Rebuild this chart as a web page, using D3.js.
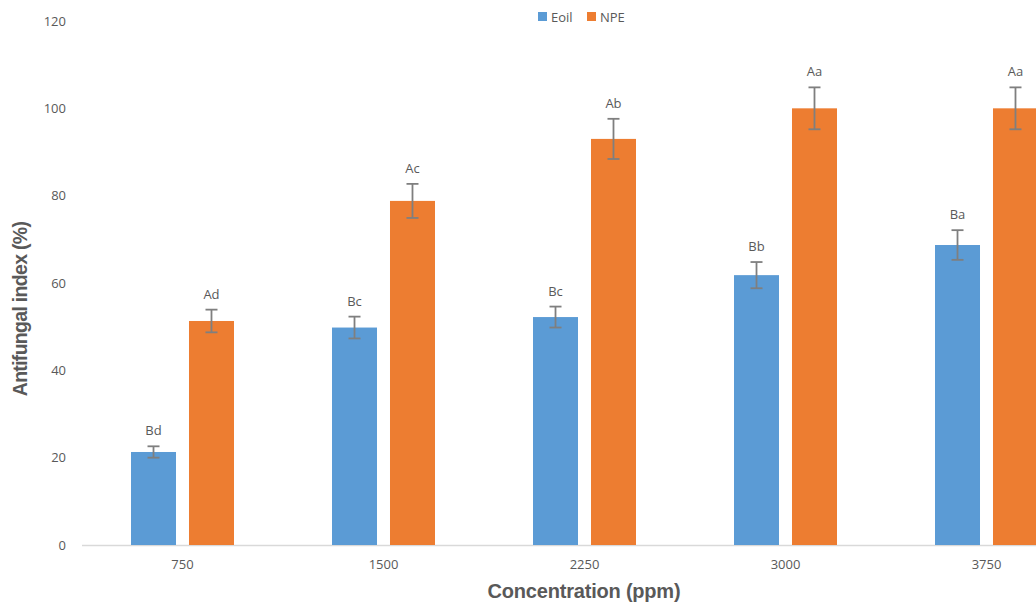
<!DOCTYPE html>
<html><head><meta charset="utf-8">
<script src="https://cdn.jsdelivr.net/npm/d3@7"></script>
<style>body{margin:0;background:#fff}svg{display:block}</style>
</head><body><svg id="c" width="1036" height="603"></svg>
<script>
const categories = ["750","1500","2250","3000","3750"];
const series = ["Eoil","NPE"];
const eoil = [21.3, 49.8, 52.2, 61.8, 68.7];
const npe = [51.3, 78.8, 93.0, 100.0, 100.0];
const eoilErr = [1.3, 2.5, 2.4, 3.0, 3.4];
const npeErr = [2.6, 3.9, 4.6, 4.8, 4.8];
const eoilLabels = ["Bd","Bc","Bc","Bb","Ba"];
const npeLabels = ["Ad","Ac","Ab","Aa","Aa"];
const yTicks = [0,20,40,60,80,100,120];
const colors = {Eoil:"#5b9bd5", NPE:"#ed7d31"};

const svg = d3.select("#c");
const x0 = 82, x1 = 1087, yTop = 21, yBot = 545;
const x = d3.scaleBand().domain(categories).range([x0, x1]);
const xs = d3.scaleBand().domain(series).range([0, x.bandwidth()]).paddingInner(0.224).paddingOuter(0.845);
const y = d3.scaleLinear().domain([0,120]).range([yBot, yTop]);
const font = "'Liberation Sans', Arial, sans-serif";
const grey = "#595959";

svg.append("g").selectAll("text").data(yTicks).join("text")
  .attr("x", 66).attr("y", d => y(d)).attr("dy","0.35em")
  .attr("text-anchor","end").attr("font-family","'Open Sans', sans-serif").attr("font-size",13)
  .attr("fill",grey).text(d => d);

svg.append("line").attr("x1",x0).attr("x2",1036).attr("y1",yBot+0.5).attr("y2",yBot+0.5)
  .attr("stroke","#d9d9d9").attr("stroke-width",1.5);

svg.append("g").selectAll("text").data(categories).join("text")
  .attr("x", d => x(d) + x.bandwidth()/2).attr("y", 569)
  .attr("text-anchor","middle").attr("font-family","'Open Sans', sans-serif").attr("font-size",13)
  .attr("fill",grey).text(d => d);

const data = [];
categories.forEach((c,i) => {
  data.push({c, s:"Eoil", v:eoil[i], e:eoilErr[i], l:eoilLabels[i]});
  data.push({c, s:"NPE", v:npe[i], e:npeErr[i], l:npeLabels[i]});
});

const g = svg.append("g");
g.selectAll("rect").data(data).join("rect")
  .attr("x", d => x(d.c) + xs(d.s)).attr("width", xs.bandwidth())
  .attr("y", d => y(d.v)).attr("height", d => yBot - y(d.v))
  .attr("fill", d => colors[d.s]);

const cx = d => x(d.c) + xs(d.s) + xs.bandwidth()/2;
const eb = g.append("g").attr("stroke","#7f7f7f").attr("stroke-width",1.8);
eb.selectAll("line.v").data(data).join("line").attr("class","v")
  .attr("x1",cx).attr("x2",cx).attr("y1",d=>y(d.v+d.e)).attr("y2",d=>y(d.v-d.e));
eb.selectAll("line.t").data(data).join("line").attr("class","t")
  .attr("x1",d=>cx(d)-6).attr("x2",d=>cx(d)+6).attr("y1",d=>y(d.v+d.e)).attr("y2",d=>y(d.v+d.e));
eb.selectAll("line.b").data(data).join("line").attr("class","b")
  .attr("x1",d=>cx(d)-6).attr("x2",d=>cx(d)+6).attr("y1",d=>y(d.v-d.e)).attr("y2",d=>y(d.v-d.e));

g.selectAll("text.lab").data(data).join("text").attr("class","lab")
  .attr("x", cx).attr("y", d => y(d.v+d.e) - 11)
  .attr("text-anchor","middle").attr("font-family","'Open Sans', sans-serif").attr("font-size",13)
  .attr("fill",grey).text(d => d.l);

const leg = svg.append("g");
const legItems = [{s:"Eoil", x:538},{s:"NPE", x:587}];
leg.selectAll("rect").data(legItems).join("rect")
  .attr("x",d=>d.x).attr("y",12).attr("width",9).attr("height",9).attr("fill",d=>colors[d.s]);
leg.selectAll("text").data(legItems).join("text")
  .attr("x",d=>d.x+13).attr("y",17).attr("dy","0.35em")
  .attr("font-family","'Open Sans', sans-serif").attr("font-size",13).attr("fill",grey).text(d=>d.s);

svg.append("text").attr("x", 584).attr("y", 598).attr("text-anchor","middle")
  .attr("font-family",font).attr("font-weight","bold").attr("font-size",20)
  .attr("letter-spacing","-0.2").attr("fill",grey).text("Concentration (ppm)");
svg.append("text").attr("transform","translate(27,309) rotate(-90)").attr("text-anchor","middle")
  .attr("font-family",font).attr("font-weight","bold").attr("font-size",19.5)
  .attr("letter-spacing","-0.7").attr("fill",grey).text("Antifungal index (%)");
</script></body></html>
